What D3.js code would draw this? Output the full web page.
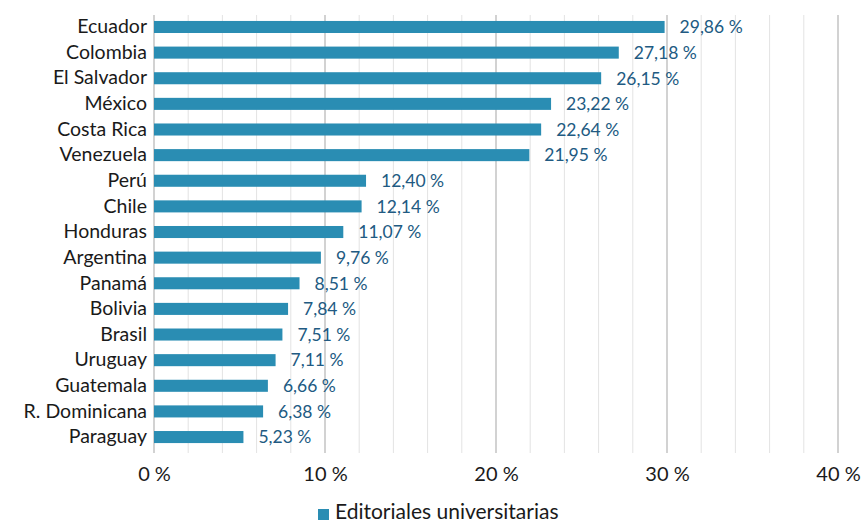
<!DOCTYPE html>
<html>
<head>
<meta charset="utf-8">
<script src="https://cdn.jsdelivr.net/npm/d3@7"></script>
<style>
  body { margin: 0; background: #fff; }
  svg text { font-family: "Lato", "DejaVu Sans", sans-serif; }
</style>
</head>
<body>
<div id="chart-area"></div>
<script>
// data
const countries = ["Ecuador", "Colombia", "El Salvador", "México", "Costa Rica", "Venezuela",
  "Perú", "Chile", "Honduras", "Argentina", "Panamá", "Bolivia", "Brasil", "Uruguay",
  "Guatemala", "R. Dominicana", "Paraguay"];
const values = [29.86, 27.18, 26.15, 23.22, 22.64, 21.95, 12.40, 12.14, 11.07, 9.76,
  8.51, 7.84, 7.51, 7.11, 6.66, 6.38, 5.23];
const majorTicks = [0, 10, 20, 30, 40];
const seriesName = "Editoriales universitarias";

let W = 862, H = 523;
let margin = {left: 154, top: 15, right: 24, bottom: 70};
let width = W - margin.left - margin.right;
let height = H - margin.top - margin.bottom;

const svg = d3.select('#chart-area').append('svg')
    .attr('width', W)
    .attr('height', H);

const g = svg.append('g')
    .attr('transform', 'translate(' + margin.left + ',' + margin.top + ')');

const x = d3.scaleLinear().domain([0, 40]).range([0, width]);
const y = d3.scaleBand().domain(countries).range([0, height])
    .paddingInner(0.53).paddingOuter(0.31).align(0.375);

// minor grid every 2 %
g.selectAll('.minor').data(d3.range(2, 40, 2).filter(d => d % 10 !== 0))
  .enter().append('line')
    .attr('x1', d => x(d)).attr('x2', d => x(d))
    .attr('y1', 0).attr('y2', height)
    .attr('stroke', '#e3e3e3').attr('stroke-width', 1);

// major grid
g.selectAll('.major').data(majorTicks)
  .enter().append('line')
    .attr('x1', d => x(d)).attr('x2', d => x(d))
    .attr('y1', 0).attr('y2', height)
    .attr('stroke', '#b4b4b4').attr('stroke-width', 1.2);

// bars
g.selectAll('rect.bar').data(values)
  .enter().append('rect')
    .attr('class', 'bar')
    .attr('x', 0)
    .attr('y', (d, i) => y(countries[i]))
    .attr('width', d => x(d))
    .attr('height', y.bandwidth())
    .attr('fill', '#2a8db3');

// value labels
g.selectAll('text.val').data(values)
  .enter().append('text')
    .attr('class', 'val')
    .attr('x', d => x(d) + 15)
    .attr('y', (d, i) => y(countries[i]) + y.bandwidth() / 2)
    .attr('dy', '0.36em')
    .attr('font-size', '17.5px')
    .attr('fill', '#215a82')
    .text(d => d.toFixed(2).replace('.', ',') + ' %');

// y axis labels
const yAxis = g.append('g').call(d3.axisLeft(y).tickSize(0).tickPadding(7));
yAxis.select('.domain').remove();
yAxis.selectAll('text').attr('font-size', '19.5px').attr('fill', '#1a1a1a');

// x axis labels
const xAxis = g.append('g')
    .attr('transform', 'translate(0,' + height + ')')
    .call(d3.axisBottom(x).tickValues(majorTicks).tickSize(0).tickPadding(14)
      .tickFormat(d => d + ' %'));
xAxis.select('.domain').remove();
xAxis.selectAll('text').attr('font-size', '20px').attr('fill', '#1a1a1a');

// legend
const legend = svg.append('g').attr('transform', 'translate(318, 509)');
legend.append('rect').attr('x', 0).attr('y', 0).attr('width', 11).attr('height', 11)
    .attr('fill', '#2a8db3');
legend.append('text').attr('x', 17).attr('y', 10)
    .attr('font-size', '21px').attr('fill', '#1a1a1a')
    .text(seriesName);
</script>
</body>
</html>
